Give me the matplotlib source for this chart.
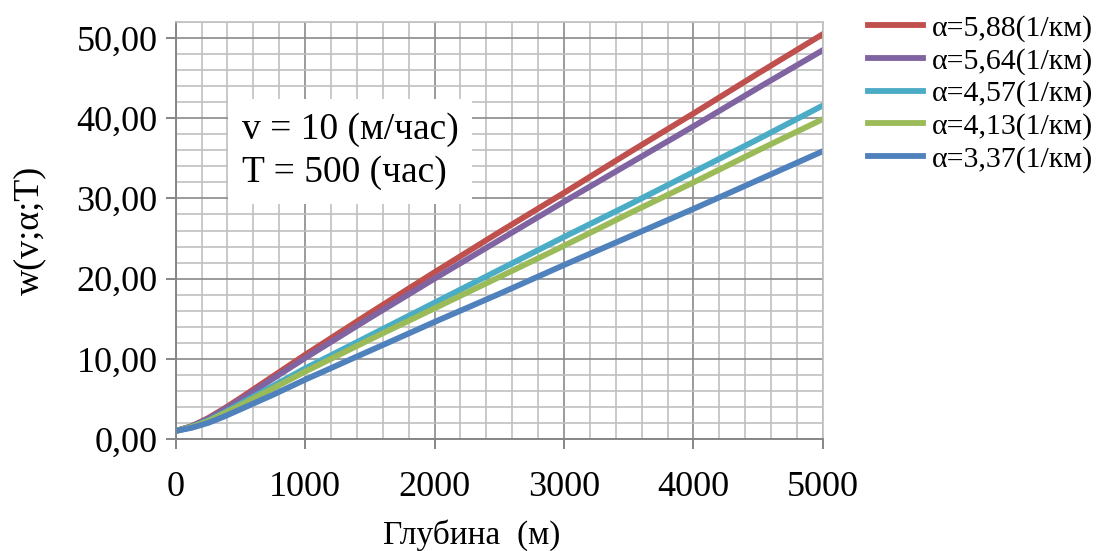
import matplotlib
matplotlib.use("Agg")
import matplotlib.pyplot as plt
from matplotlib.ticker import MultipleLocator, FixedLocator

plt.rcParams['font.family'] = ['Liberation Serif', 'DejaVu Serif']

depth = [0, 125, 250, 375, 500, 750, 1000, 1500, 2000, 2500, 3000, 3500, 4000, 4500, 5000]
w_588 = [1.0, 1.6, 2.6, 3.8, 5.1, 7.8, 10.5, 15.7, 20.8, 25.8, 30.7, 35.7, 40.6, 45.6, 50.5]
w_564 = [1.0, 1.6, 2.5, 3.7, 4.9, 7.5, 10.1, 15.1, 20.0, 24.8, 29.6, 34.3, 39.0, 43.8, 48.5]
w_457 = [1.0, 1.5, 2.3, 3.3, 4.4, 6.6, 8.8, 12.9, 17.0, 21.1, 25.2, 29.2, 33.3, 37.4, 41.6]
w_413 = [1.0, 1.5, 2.2, 3.2, 4.2, 6.3, 8.4, 12.4, 16.3, 20.2, 24.1, 28.1, 32.0, 36.0, 39.9]
w_337 = [1.0, 1.4, 2.0, 2.8, 3.7, 5.5, 7.4, 11.0, 14.6, 18.1, 21.7, 25.2, 28.7, 32.3, 35.9]

labels = ['α=5,88(1/км)', 'α=5,64(1/км)', 'α=4,57(1/км)', 'α=4,13(1/км)', 'α=3,37(1/км)']
colors = ['#C0504D', '#8064A2', '#4BACC6', '#9BBB59', '#4F81BD']
series = [w_588, w_564, w_457, w_413, w_337]

fig = plt.figure(figsize=(10.98, 5.51), dpi=100)
ax = fig.add_axes([0.160, 0.2033, 0.5895, 0.7567])

for ys, c, lab in zip(series, colors, labels):
    ax.plot(depth, ys, color=c, lw=4.2, label=lab)

ax.set_xlim(0, 5000)
ax.set_ylim(0, 52)
ax.xaxis.set_major_locator(MultipleLocator(1000))
ax.xaxis.set_minor_locator(MultipleLocator(200))
ax.yaxis.set_major_locator(FixedLocator([0, 10, 20, 30, 40, 50]))
ax.yaxis.set_minor_locator(MultipleLocator(2))
ax.yaxis.set_major_formatter(lambda v, p: f'{v:.2f}'.replace('.', ','))

ax.grid(which='minor', color='#c0c0c0', lw=1.2)
ax.grid(which='major', color='#8a8a8a', lw=1.2)
ax.set_axisbelow(True)

for s in ['left', 'bottom']:
    ax.spines[s].set_color('#868686')
    ax.spines[s].set_linewidth(1.4)
for s in ['top', 'right']:
    ax.spines[s].set_color('#c0c0c0')
    ax.spines[s].set_linewidth(1.2)

ax.tick_params(axis='both', which='major', direction='out', length=7, width=1.4,
               color='#868686', labelsize=26)
ax.tick_params(axis='y', which='major', pad=6)
ax.tick_params(axis='x', which='major', pad=16)
ax.tick_params(axis='both', which='minor', length=0)

ax.set_ylabel('w(v;α;T)', fontsize=26, labelpad=22)
fig.text(472 / 1098, 1 - 535 / 551, 'Глубина  (м)', fontsize=24, ha='center', va='center')

ax.text(0.102, 0.69, 'v = 10 (м/час)\nT = 500 (час)', transform=ax.transAxes,
        fontsize=27, va='center', ha='left', linespacing=1.3,
        bbox=dict(facecolor='white', edgecolor='none', pad=10))

fig.legend(loc='upper left', bbox_to_anchor=(868 / 1098, 1 - 15 / 551), frameon=False,
           fontsize=21.5, handlelength=1.85, handletextpad=0.3, labelspacing=0.18,
           borderaxespad=0, borderpad=0)

fig.savefig('out.png', dpi=100)
